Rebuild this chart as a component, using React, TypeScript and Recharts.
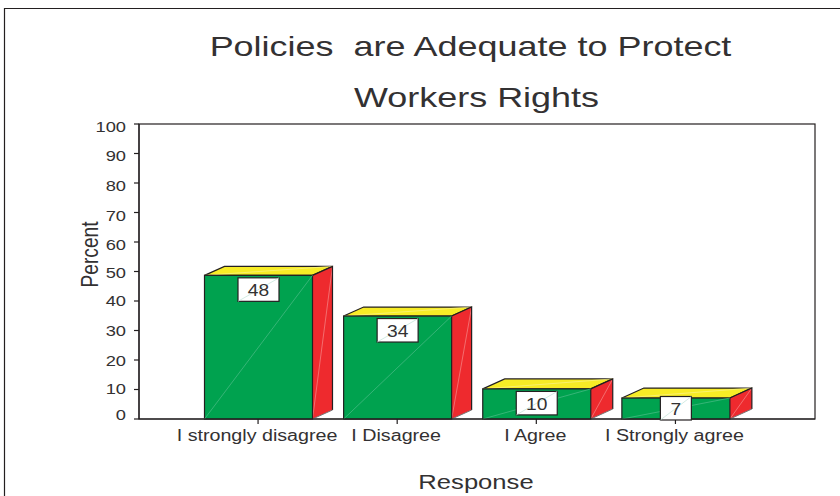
import React from "react";
import { BarChart, Bar, XAxis, YAxis, LabelList } from "recharts";

const categories = ["I strongly disagree", "I Disagree", "I Agree", "I Strongly agree"];
const percents = [48.7, 34.9, 10.2, 7.1];
const shownLabels = ["48", "34", "10", "7"];
const yTicks = [0, 10, 20, 30, 40, 50, 60, 70, 80, 90, 100];
const titleLines = ["Policies  are Adequate to Protect", "Workers Rights"];
const data = categories.map((category, i) => ({ category, percent: percents[i], shown: shownLabels[i] }));

const FONT = "'Liberation Sans', Arial, sans-serif";
const INK = "#231f20";
const TEXT = "#333132";

function Stretched({ x, y, sx = 1.22, size, anchor = "middle", rotate = 0, children }: any) {
  return (
    <text
      transform={`translate(${x},${y}) rotate(${rotate}) scale(${sx},1)`}
      textAnchor={anchor}
      fontFamily={FONT}
      fontSize={size}
      fill={TEXT}
      style={{ whiteSpace: "pre" }}
    >
      {children}
    </text>
  );
}

const tickNudge: Record<number, number> = { 100: 8, 90: 7, 80: 8, 70: 8, 60: 8, 50: 6, 40: 5, 30: 5, 20: 6, 10: 4, 0: 1 };

function YTick({ x, y, payload }: any) {
  return (
    <Stretched x={x - 6} y={y + tickNudge[payload.value]} size={15} anchor="end">
      {String(payload.value)}
    </Stretched>
  );
}

function XTick({ x, y, payload }: any) {
  return (
    <Stretched x={x - 1} y={y + 15} size={16} sx={1.23}>
      {payload.value}
    </Stretched>
  );
}

function Box3D({ x, y, width, height }: any) {
  const dx = height > 50 ? 20 : 22;
  const dy = height > 50 ? 9 : 10;
  const r = x + width;
  const b = y + height;
  const top = `${x},${y} ${x + dx},${y - dy} ${r + dx},${y - dy} ${r},${y}`;
  const side = `${r},${y} ${r + dx},${y - dy} ${r + dx},${b - dy} ${r},${b}`;
  return (
    <g>
      <polygon points={top} fill="#f7ec26" stroke={INK} strokeWidth={1.2} />
      <line x1={x} y1={y} x2={r + dx} y2={y - dy} stroke="#fbf48a" strokeWidth={0.7} />
      <polygon points={side} fill="#ee2a2e" stroke="none" />
      <line x1={r} y1={b} x2={r + dx} y2={y - dy} stroke="#f58a8a" strokeWidth={0.7} />
      <polyline points={`${r},${y} ${r + dx},${y - dy} ${r + dx},${b - dy}`} fill="none" stroke={INK} strokeWidth={1.2} />
      <line x1={r} y1={b} x2={r + dx} y2={b - dy} stroke="#777" strokeWidth={1} />
      <rect x={x} y={y} width={width} height={height} fill="#00a24f" stroke={INK} strokeWidth={1.2} />
      <line x1={x} y1={b} x2={r} y2={y} stroke="#4dbb88" strokeWidth={0.7} />
    </g>
  );
}

function ValueBox({ x, y, width, value }: any) {
  const w = String(value).length > 1 ? 41 : 31;
  const h = 23.5;
  const floor = 420 - h;
  const top = Math.min(y + 2.5, floor);
  const left = x + width / 2 - w / 2;
  return (
    <g>
      <rect x={left} y={top} width={w} height={h} fill="#ffffff" stroke={INK} strokeWidth={1.2} />
      <line x1={left} y1={top + h} x2={left + w} y2={top} stroke="#bfe3d6" strokeWidth={0.7} />
      <Stretched x={left + w / 2} y={top + 18.5} size={16} sx={1.2}>
        {String(value)}
      </Stretched>
    </g>
  );
}

export default function App() {
  return (
    <div style={{ position: "absolute", left: 0, top: 0, width: 840, height: 496, background: "#fff" }}>
      <BarChart
        width={840}
        height={496}
        data={data}
        margin={{ top: 124, right: 25, bottom: 0, left: 0 }}
        barCategoryGap={0}
      >
        <path d="M4.5,496 V8.5 H840" fill="none" stroke={INK} strokeWidth={1.2} />
        <rect x={139} y={124} width={676} height={295} fill="none" stroke={INK} strokeWidth={1.2} />
        <XAxis
          dataKey="category"
          height={77}
          padding={{ left: 49.5, right: 70 }}
          tick={<XTick />}
          tickSize={5}
          interval={0}
          axisLine={{ stroke: INK, strokeWidth: 1.2 }}
          tickLine={{ stroke: INK, strokeWidth: 1.2 }}
        />
        <YAxis
          width={139}
          domain={[0, 100]}
          ticks={yTicks}
          tick={<YTick />}
          tickSize={5}
          interval={0}
          axisLine={{ stroke: INK, strokeWidth: 1.2 }}
          tickLine={{ stroke: INK, strokeWidth: 1.2 }}
        />
        <Bar dataKey="percent" barSize={108} isAnimationActive={false} shape={<Box3D />}>
          <LabelList dataKey="shown" content={<ValueBox />} />
        </Bar>
        <Stretched x={470.5} y={56} size={28} sx={1.285}>{titleLines[0]}</Stretched>
        <Stretched x={476.5} y={107} size={28} sx={1.285}>{titleLines[1]}</Stretched>
        <Stretched x={98} y={254.5} size={24} sx={0.8} rotate={-90}>Percent</Stretched>
        <Stretched x={476} y={489} size={20} sx={1.28}>Response</Stretched>
      </BarChart>
    </div>
  );
}
